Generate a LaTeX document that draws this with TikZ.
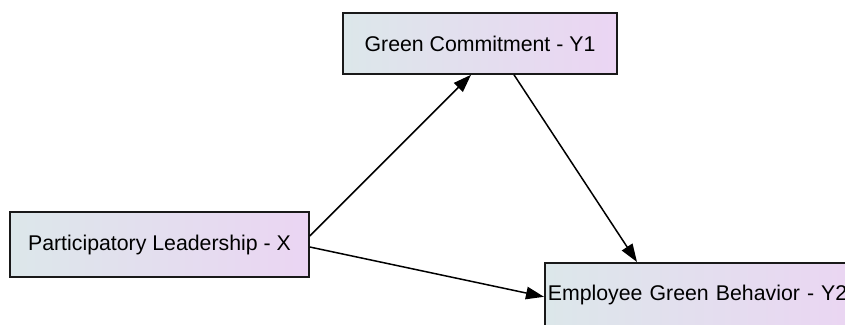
\documentclass[tikz,border=0pt]{standalone}
\usepackage{fontspec}
\setmainfont{Liberation Sans}
\usetikzlibrary{arrows.meta}
\definecolor{boxleft}{RGB}{220,231,234}
\definecolor{boxright}{RGB}{235,213,243}
\tikzset{
  varbox/.style={draw=black!90, line width=1.6pt, rectangle, left color=boxleft, right color=boxright,
    font=\fontsize{21.3pt}{25pt}\selectfont, inner sep=0pt, anchor=center},
  link/.style={line width=1.5pt, -{Triangle[length=18pt,width=12.5pt]}}
}
\begin{document}
\begin{tikzpicture}[x=1pt,y=1pt]
\useasboundingbox (0,0) rectangle (845,-324);
\node[varbox, minimum width=274pt, minimum height=61pt] (y1) at (480,-43.5) {Green Commitment - Y1};
\node[varbox, minimum width=299pt, minimum height=65pt] (x) at (159.5,-244.5) {Participatory Leadership - X};
\node[varbox, minimum width=318pt, minimum height=65pt, anchor=north west, align=left, text width=312pt] (y2) at (544,-262) {Employee Green Behavior - Y2};
\draw[link] ([yshift=8.5pt]x.east) -- ([xshift=-9pt]y1.south);
\draw[link] ([xshift=34pt]y1.south) -- ([xshift=93pt]y2.north west);
\draw[link] ([yshift=-2.5pt]x.east) -- ([yshift=-1.5pt]y2.west);
\end{tikzpicture}
\end{document}
